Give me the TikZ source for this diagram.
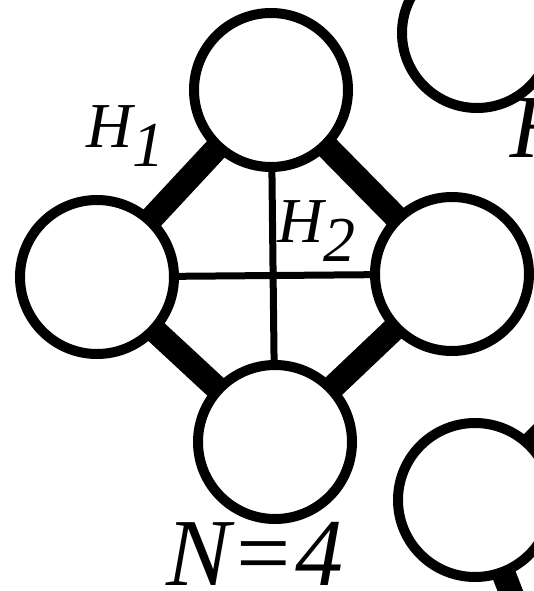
\documentclass[tikz,border=0pt]{standalone}
\usepackage{fontspec}
\setmainfont{Liberation Serif}[ItalicFont={Liberation Serif Italic}]
\usetikzlibrary{backgrounds}
\tikzset{
  site/.style={circle, draw, line width=10pt, fill=white, minimum size=154pt, inner sep=0pt},
  bond/.style={line width=24pt},
  hop/.style={line width=7pt},
  lbl/.style={inner sep=0pt, anchor=base west, font=\fontsize{64}{70}\selectfont\itshape},
}
\newcommand{\sublow}[1]{\raisebox{-19pt}{#1}}
\begin{document}
\begin{tikzpicture}[x=1pt, y=-1pt]
\useasboundingbox (0,0) rectangle (534,591);
\clip (0,0) rectangle (534,591);
% N=4 square
\node[site] (top) at (271,90) {};
\node[site] (left) at (97,277) {};
\node[site] (right) at (452,274) {};
\node[site] (bot) at (275,442) {};
% next panel, cut by the page edge
\node[site, minimum size=150pt] (ntop) at (477,33) {};
\node[site] (nbot) at (475,500) {};
\coordinate (nout1) at (555,706);
\coordinate (nout2) at (625,350);
\begin{pgfonlayer}{background}
\draw[bond] (left.center)--(top.center)--(right.center)--(bot.center)--cycle;
\draw[hop] (top.center)--(bot.center) (left.center)--(right.center);
\draw[bond] (nbot.center)--(nout1) (nbot.center)--(nout2);
\end{pgfonlayer}
\node[lbl] (h1) at (86,147) {H\sublow{1}};
\node[lbl] (h2) at (277,242) {H\sublow{2}};
\node[lbl, font=\fontsize{96}{100}\selectfont\itshape] (n) at (166,585) {N=4};
\node[lbl, font=\fontsize{90}{96}\selectfont\itshape] (nh) at (510,157) {H};
\end{tikzpicture}
\end{document}
